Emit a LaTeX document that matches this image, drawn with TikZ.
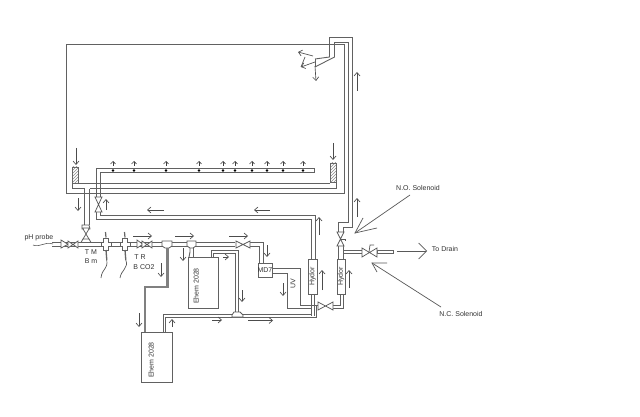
\documentclass[tikz,border=0pt]{standalone}
\usepackage{fontspec}
\setmainfont{Liberation Sans}
\usetikzlibrary{arrows.meta,patterns}
\tikzset{
  pipe/.style={draw=black!62,line width=0.9pt,line join=miter},
  thick pipe/.style={draw=black!50,line width=2.8pt},
  flow/.style={draw=black!70,line width=0.65pt,-{Straight Barb[length=3.5pt,width=6pt]}},
  upflow/.style={draw=black!75,line width=0.6pt,-{Straight Barb[length=2.5pt,width=5pt]}},
  leader/.style={draw=black!65,line width=0.7pt},
  lbl/.style={font=\fontsize{7}{8}\selectfont,text=black!80,inner sep=0pt},
  box/.style={draw=black!62,line width=0.9pt,fill=white},
  hatchbox/.style={draw=black!60,line width=0.7pt,pattern=north east lines,pattern color=black!45},
  valve/.style={draw=black!65,line width=0.75pt,fill=white},
  dot/.style={circle,fill=black,inner sep=0pt,minimum size=2.6pt}
}
\newcommand{\HValve}[3]{% x y halfwidth
  \path[valve] (#1-#3,#2-3.5)--(#1+#3,#2+3.5)--(#1+#3,#2-3.5)--(#1-#3,#2+3.5)--cycle;}
\newcommand{\VValve}[3]{% x y halfheight
  \path[valve] (#1-3.5,#2-#3)--(#1+3.5,#2+#3)--(#1-3.5,#2+#3)--(#1+3.5,#2-#3)--cycle;}
\begin{document}
\begin{tikzpicture}[x=1pt,y=-1pt]
\useasboundingbox[fill=white] (0,0) rectangle (640,417);
% tank
\draw[pipe] (344.5,44.5)--(66.5,44.5)--(66.5,193.5)--(344.5,193.5)--cycle;
% return to tank
\draw[pipe] (315,59)--(329.5,57)--(329.5,37.5)--(352.5,37.5)--(352.5,227.5)--(343.5,227.5)--(343.5,232);
\draw[pipe] (315,67)--(334.5,57)--(334.5,42.5)--(348.5,42.5)--(348.5,222.5)--(338.5,222.5)--(338.5,232);
\draw[pipe] (315,59)--(315,67);
\draw[flow] (313,56)--(298,52);
\draw[flow] (315,62)--(301,67);
\draw[leader] (301,67)--(305,57);
\draw[flow] (315,66)--(316,81);
% overflows
\node[hatchbox,minimum width=6pt,minimum height=16pt,inner sep=0pt] (ofl) at (75,175) {};
\node[hatchbox,minimum width=6pt,minimum height=19pt,inner sep=0pt] (ofr) at (333,172.5) {};
\draw[pipe] (78,183.5)--(330,183.5);
\draw[pipe] (72,183)--(72,188.5)--(84.5,188.5)--(84.5,225);
\draw[pipe] (336,182)--(336,188.5)--(89.5,188.5);
\draw[pipe] (89.5,188.5)--(89.5,225);
% spray bar
\draw[pipe] (96.5,197)--(96.5,168.5)--(314.5,168.5)--(314.5,172.5)--(100.5,172.5)--(100.5,197);
\foreach \x in {113,134,166,199,223,235,252,267,283,303}{
  \node[dot] at (\x,170.5) {};
  \draw[upflow] (\x,166)--(\x,161);
}
\draw[pipe] (96.5,212)--(96.5,219.5)--(311.5,219.5)--(311.5,259);
\draw[pipe] (100.5,212)--(100.5,215.5)--(315.5,215.5)--(315.5,259);
\VValve{98.5}{204.5}{7.5}
% sump feed
\path[valve] (82,225)--(89,225)--(90,229)--(82,229)--cycle;
\VValve{86}{234}{6}
\path[valve] (83,239)--(89,239)--(91,242.5)--(81,242.5)--cycle;
% main line
\draw[pipe] (52,242.5)--(235,242.5);
\draw[pipe] (52,246.5)--(235,246.5);
\draw[pipe] (250,242.5)--(263.5,242.5)--(263.5,263);
\draw[pipe] (250,246.5)--(259.5,246.5)--(259.5,263);
\draw[leader,line width=0.6pt] (33,245) .. controls (40,248) and (45,241) .. (53,244);
\path[valve] (61,240)--(68,244.3)--(61,248)--cycle;
\HValve{73}{244.5}{5}
% probes
\foreach \x in {106,125}{
  \path[box,line width=0.75pt] (\x-2.5,238)--(\x+2.5,238)--(\x+2.5,242)--(\x+5,242)--(\x+5,246.5)--(\x+2.5,246.5)--(\x+2.5,250)--(\x-2.5,250)--(\x-2.5,246.5)--(\x-5,246.5)--(\x-5,242)--(\x-2.5,242)--cycle;
  \draw[black!60,line width=1.2pt] (\x-0.5,232)--(\x,237.5);
  \draw[black!60,line width=1.3pt] (\x,250)--(\x+0.8,260);
}
\draw[leader] (106.8,260) .. controls (108,270) and (102,268) .. (101,278);
\draw[leader] (125.8,260) .. controls (129,268) and (121,270) .. (120,278);
\path[valve] (137,240)--(143,244.3)--(137,248)--cycle;
\HValve{147}{244.5}{5}
% tees
\path[valve] (162,241)--(172,241)--(172,246)--(169,248)--(165,248)--(162,246)--cycle;
\path[valve] (187,241)--(196,241)--(196,246)--(193,248)--(190,248)--(187,246)--cycle;
\HValve{243}{244.5}{7}
% suction 1
\draw[thick pipe] (167.5,248)--(167.5,287)--(145,287)--(145,332);
% to upper filter
\draw[pipe] (190,248)--(190,252)--(189,257);
\draw[pipe] (193,248)--(193,257);
% upper filter
\node[box,minimum width=30pt,minimum height=51pt,inner sep=0pt] (ehemtop) at (203,282.5) {};
\node[lbl,rotate=90] at (196,286) {Ehem 2028};
\draw[pipe] (211.5,257)--(211.5,250.5)--(238.5,250.5)--(238.5,312);
\draw[pipe] (213.5,257)--(213.5,253.5)--(235.5,253.5)--(235.5,312);
% lower filter
\node[box,minimum width=31pt,minimum height=50pt,inner sep=0pt] (ehembot) at (156.5,357) {};
\node[lbl,rotate=90] at (151,360) {Ehem 2028};
\draw[pipe] (163.5,332)--(163.5,314.5)--(312,314.5);
\draw[pipe] (165.5,332)--(165.5,317.5)--(316.5,317.5)--(316.5,305.5)--(318,305.5);
\path[valve] (234,312)--(240,312)--(243,315)--(243,317)--(232,317)--(232,315)--cycle;
% MD7 & UV
\node[box,minimum width=14pt,minimum height=14pt,inner sep=0pt] (md) at (265,270) {};
\node[lbl] at (265,270) {MD7};
\draw[pipe] (272,268.5)--(300.5,268.5)--(300.5,305.5)--(318,305.5);
\draw[pipe] (272,273.5)--(287.5,273.5)--(287.5,308.5)--(311,308.5);
\node[lbl,rotate=90] at (293,284) {UV};
% hydors
\draw[pipe] (311.5,294)--(311.5,316);
\draw[pipe] (314.5,294)--(314.5,316);
\node[box,minimum width=9pt,minimum height=35pt,inner sep=0pt] (hy1) at (312.5,276.5) {};
\node[lbl,rotate=90] at (312.5,276.5) {Hydor};
\node[box,minimum width=8pt,minimum height=35pt,inner sep=0pt] (hy2) at (341,276.5) {};
\node[lbl,rotate=90] at (341,276.5) {Hydor};
\draw[pipe] (338.5,246)--(338.5,259);
\draw[pipe] (343.5,246)--(343.5,259);
\draw[pipe] (340.5,294)--(340.5,305.5)--(333,305.5);
\draw[pipe] (343.5,294)--(343.5,308.5)--(333,308.5);
\path[valve] (318,302)--(333,310)--(333,302)--(318,310)--cycle;
\VValve{340.5}{239}{7}
\draw[leader] (340.5,239)--(345,239)--(345,241);
% drain
\draw[pipe] (343,250.5)--(362,250.5);
\draw[pipe] (343,253.5)--(362,253.5);
\path[box] (377,250)--(393,250)--(393,253.5)--(377,253.5)--cycle;
\path[valve] (362,248)--(377,257)--(377,248)--(362,257)--cycle;
\draw[leader] (369,252)--(370,245)--(374,245);
\draw[draw=black!65,line width=0.7pt,-{Straight Barb[length=8pt,width=16pt]}] (397,251)--(427,251);
\node[lbl] (drain) at (445,249) {To Drain};
% solenoids
\node[lbl] (no) at (418,188) {N.O. Solenoid};
\node[lbl] (nc) at (461,314) {N.C. Solenoid};
\draw[leader] (410,195)--(355,233);
\draw[leader] (363,218)--(355,233)--(377,228);
\draw[leader] (441,307)--(372,263);
\draw[leader] (387,263)--(372,263)--(377,272);
% labels
\node[lbl] at (39,238) {pH probe};
\node[lbl] at (91,252) {T M};
\node[lbl] at (91,261) {B m};
\node[lbl] at (140,257) {T R};
\node[lbl] at (144,267) {B CO2};
% flow arrows
\draw[flow] (76,148)--(76,165);
\draw[flow] (333,143)--(333,160);
\draw[flow] (78,198)--(78,211);
\draw[flow] (106,210)--(106,199);
\draw[flow] (164,210)--(147,210);
\draw[flow] (270,210)--(254,210);
\draw[flow] (357,91)--(357,72);
\draw[flow] (357,217)--(357,198);
\draw[flow] (319,235)--(319,217);
\draw[flow] (322,290)--(322,270);
\draw[flow] (349,288)--(349,270);
\draw[flow] (133,236)--(152,236);
\draw[flow] (175,236)--(194,236);
\draw[flow] (229,236)--(248,236);
\draw[flow] (183,248)--(183,261);
\draw[flow] (161,263)--(161,277);
\draw[flow] (267,245)--(267,257);
\draw[flow] (283,283)--(283,296);
\draw[flow] (242,290)--(242,302);
\draw[flow] (223,257)--(229,257);
\draw[flow] (212,320)--(222,320);
\draw[flow] (248,320.5)--(273,320.5);
\draw[flow] (172,327)--(172,319);
\draw[flow] (139,313)--(139,327);
\end{tikzpicture}
\end{document}
